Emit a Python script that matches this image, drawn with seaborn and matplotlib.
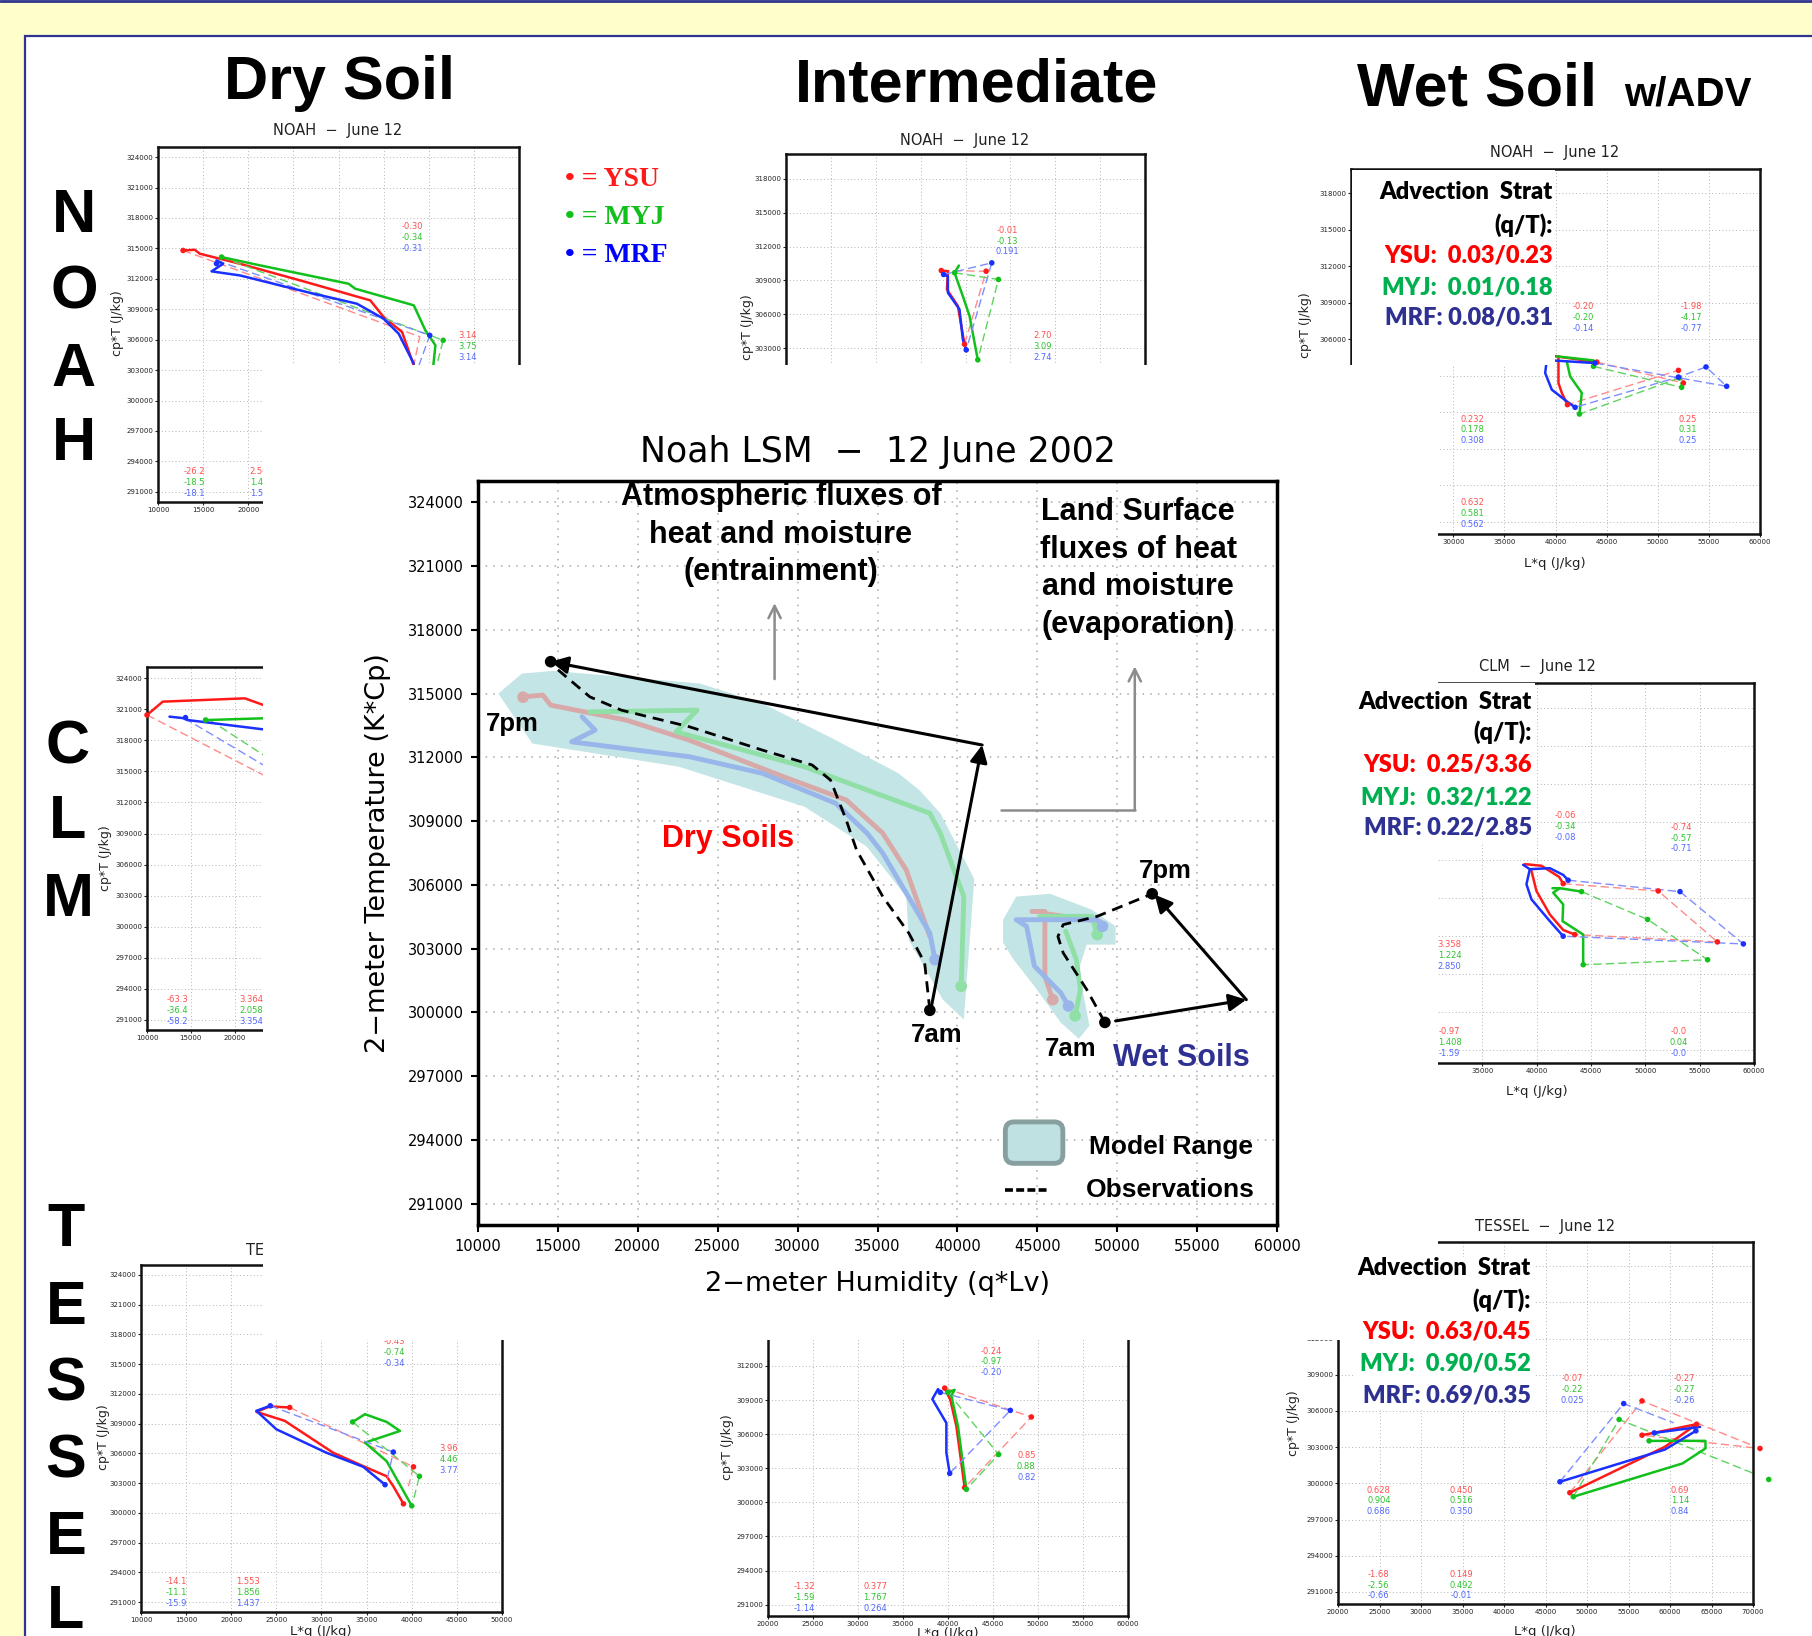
import numpy as np
import matplotlib
matplotlib.use('Agg')
import matplotlib.pyplot as plt
import seaborn as sns
from matplotlib.patches import Rectangle, FancyBboxPatch
from matplotlib.lines import Line2D
from matplotlib.ticker import FuncFormatter

#------------------------------------------------------------------------------
# DATA
#------------------------------------------------------------------------------

MODELS = ['YSU', 'MYJ', 'MRF']

# central panel: Noah LSM 12 June 2002
dry_range = [(11271, 315000), (12750, 315943), (14710, 316066), (23875, 315474), (27800, 314535),
             (32383, 312810), (36309, 311250), (37618, 310464), (38931, 309370), (41055, 306281),
             (40403, 299666), (39090, 300600), (36960, 303420), (36800, 305450), (34330, 307800),
             (31730, 309055), (30420, 309680), (26490, 310620), (22560, 311560), (16017, 312340),
             (13400, 312650)]
wet_range = [(42860, 304360), (43680, 305450), (45800, 305580), (48420, 304830), (49900, 304050),
             (49900, 303190), (48090, 303190), (47600, 302020), (48260, 299370), (47600, 298760),
             (46460, 299530), (44820, 301230), (43515, 302490), (42860, 303280)]

cen_dry = {
    'YSU': [[(12750, 314845), (14060, 314925), (14546, 314455), (19290, 313750), (23220, 312810),
             (29110, 311090), (33040, 309995), (35330, 308430), (36800, 306700), (38275, 303570)]],
    'MYJ': [[(17000, 314140), (23712, 314220), (22400, 313200), (30420, 311560), (38275, 309370),
             (38930, 308430), (40400, 305450), (40240, 301230)]],
    'MRF': [[(16510, 313910), (17330, 313280), (15860, 312730), (23220, 312030), (27800, 311250),
             (32380, 309840), (34350, 308430), (35330, 307490), (36800, 305610), (38275, 303730),
             (38600, 302480)]],
}
cen_wet = {
    'YSU': [[(45970, 300600), (45475, 301700), (45475, 304750), (44660, 304750)],
            [(45475, 304650), (48920, 304280)]],
    'MYJ': [[(45150, 304520), (48420, 304520), (48750, 303660)],
            [(46780, 303820), (47440, 302490), (47700, 301080), (47370, 299840)]],
    'MRF': [[(46950, 300300), (46460, 300930), (44820, 302180), (44330, 304050), (43680, 304360),
             (48750, 304360), (49080, 304050)]],
}
cen_dots = {
    'YSU': [(12820, 314830), (45970, 300600)],
    'MYJ': [(40240, 301230), (47370, 299840), (48750, 303660)],
    'MRF': [(38600, 302480), (46950, 300300), (49080, 304050)],
}
obs_dry = [(38275, 300100), (37950, 302330), (36960, 303730), (35330, 305450), (33690, 307640),
           (33040, 309055), (32060, 310930), (30910, 311640), (27800, 312340), (23220, 313440),
           (18970, 314220), (17000, 314845), (14546, 316410)]
obs_wet = [(49230, 299530), (48090, 301080), (46620, 302800), (46290, 303570), (46620, 304130),
           (48750, 304520), (52190, 305580)]
obs_pts = [(14546, 316500), (38275, 300100), (49230, 299530), (52190, 305580)]
flux_dry = [(38275, 299900), (41550, 312580), (14546, 316500)]
flux_wet = [(49900, 299600), (58080, 300600), (52350, 305540)]

# small panels: solid model paths, dashed closing paths, dots, printed numbers
noah_dry_solid = {
    'YSU': [[(12780, 314800), (14070, 314870), (14630, 314480), (19075, 313490), (25740, 311850),
             (33520, 309880), (35000, 308240), (37040, 306760), (38340, 303470), (38520, 302000)]],
    'MYJ': [[(17040, 314150), (21300, 313330), (31110, 311520), (31850, 311030), (38340, 309390),
             (39630, 306920), (40740, 305450), (40370, 302330)]],
    'MRF': [[(16480, 313820), (17220, 313490), (15930, 312740), (19075, 312340), (26480, 310700),
             (32040, 309550), (35000, 308070), (36670, 306590), (38340, 303640)]],
}
noah_dry_dash = {
    'YSU': [[(12780, 314800), (39000, 306300), (38340, 303470)]],
    'MYJ': [[(17040, 314150), (41600, 305940), (40740, 303000)]],
    'MRF': [[(16480, 313820), (40110, 306430), (38800, 303200)]],
}
noah_dry_dots = {'YSU': [(12780, 314800)], 'MYJ': [(17040, 314150), (41600, 305940)],
                 'MRF': [(16480, 313500), (40110, 306430)]}
noah_dry_nums = [(38150, 317170, ['-0.30', '-0.34', '-0.31']), (44260, 306430, ['3.14', '3.75', '3.14']),
                 (14000, 292970, ['-26.2', '-18.5', '-18.1']), (21200, 292970, ['2.56', '1.46', '1.56'])]

noah_int_solid = {
    'YSU': [[(37300, 309880), (38040, 309820), (37930, 308200), (39150, 306740), (39890, 303350)]],
    'MYJ': [[(39260, 310320), (38780, 309680), (39700, 307620), (40450, 305850), (41370, 301970)]],
    'MRF': [[(37560, 309530), (38040, 309380), (38040, 307910), (39330, 306440), (39700, 303790),
             (40080, 302850)]],
}
noah_int_dash = {
    'YSU': [[(37300, 309880), (42300, 309820), (39890, 303350)]],
    'MYJ': [[(38780, 309680), (43670, 309090), (41370, 301970)]],
    'MRF': [[(37560, 309530), (42930, 310560), (40080, 302850)]],
}
noah_int_dots = {'YSU': [(37300, 309880), (42300, 309820), (39890, 303350)],
                 'MYJ': [(38780, 309680), (43670, 309090), (41370, 301970)],
                 'MRF': [(37560, 309530), (42930, 310560), (40080, 302850)]}
noah_int_nums = [(44700, 313440, ['-0.01', '-0.13', '0.191']), (48600, 304090, ['2.70', '3.09', '2.74'])]

noah_wet_solid = {
    'YSU': [[(39640, 304650), (44040, 304130)],
            [(40290, 304600), (40290, 302410), (40620, 301590), (41170, 300630)]],
    'MYJ': [[(40130, 304600), (43710, 304270), (43710, 303780)],
            [(41100, 304190), (41430, 302960), (42570, 301590), (42340, 299860)]],
    'MRF': [[(38500, 304330), (43870, 304050)],
            [(39150, 304330), (38990, 303230), (39640, 301860), (41100, 300900), (41920, 300410)]],
}
noah_wet_dash = {
    'YSU': [[(44040, 304130), (52510, 302410), (52020, 303450), (41170, 300630)]],
    'MYJ': [[(43710, 303780), (52340, 302050), (52110, 302820), (42340, 299860)]],
    'MRF': [[(43870, 304050), (56740, 302140), (54720, 303730), (52020, 302900), (41920, 300410)]],
}
noah_wet_dots = {'YSU': [(44040, 304130), (52510, 302410), (52020, 303450), (41170, 300630)],
                 'MYJ': [(43710, 303780), (52340, 302050), (52110, 302820), (42340, 299860)],
                 'MRF': [(43870, 304050), (56740, 302140), (54720, 303730), (52020, 302900), (41920, 300410)]}
noah_wet_nums = [(42670, 308710, ['-0.20', '-0.20', '-0.14']), (53320, 308710, ['-1.98', '-4.17', '-0.77']),
                 (31890, 299450, ['0.232', '0.178', '0.308']), (52930, 299450, ['0.25', '0.31', '0.25']),
                 (31890, 292550, ['0.632', '0.581', '0.562'])]

clm_dry_solid = {
    'YSU': [[(10000, 320460), (11800, 321750), (21180, 322070), (23290, 321430), (27000, 320200)]],
    'MYJ': [[(16700, 319980), (17160, 319980), (23290, 320140), (27000, 320200)]],
    'MRF': [[(12570, 320300), (14290, 320140), (14400, 320360), (14560, 319980), (23290, 319070),
             (27000, 318600)]],
}
clm_dry_dash = {
    'YSU': [[(10000, 320460), (23290, 314660), (28000, 312600)]],
    'MYJ': [[(17160, 319980), (23290, 316600), (28000, 314500)]],
    'MRF': [[(14290, 320140), (23290, 315630), (28000, 313600)]],
}
clm_dry_dots = {'YSU': [(10000, 320460)], 'MYJ': [(16700, 319980)], 'MRF': [(14400, 320200)]}
clm_dry_nums = [(13520, 292930, ['-63.3', '-36.4', '-58.2']), (21950, 292930, ['3.364', '2.058', '3.354'])]

clm_wet_solid = {
    'YSU': [[(38910, 305700), (40440, 305570), (42070, 304690), (42440, 304160)],
            [(39520, 305170), (39980, 303580), (41210, 301730), (42440, 300500), (43510, 300140)]],
    'MYJ': [[(41450, 303800), (42130, 303800), (44130, 303530)],
            [(42130, 303800), (41520, 303450), (42440, 302520), (42380, 301200), (43820, 300400),
             (44280, 300140), (44280, 297760)]],
    'MRF': [[(38750, 305650), (39370, 305300), (39060, 304110), (39520, 302920), (41210, 301200),
             (42440, 300010)],
            [(39370, 305300), (41210, 305380), (42440, 304850), (42900, 304430)]],
}
clm_wet_dash = {
    'YSU': [[(42440, 304160), (51190, 303580), (56630, 299560), (43510, 300140)]],
    'MYJ': [[(44130, 303530), (50210, 301330), (55730, 298150), (44280, 297760)]],
    'MRF': [[(42900, 304430), (53190, 303530), (59020, 299400), (42440, 300010)]],
}
clm_wet_dots = {'YSU': [(42440, 304160), (51190, 303580), (56630, 299560), (43510, 300140)],
                'MYJ': [(44130, 303530), (50210, 301330), (55730, 298150), (44280, 297760)],
                'MRF': [(42900, 304430), (53190, 303530), (59020, 299400), (42440, 300010)]}
clm_wet_nums = [(42620, 309540, ['-0.06', '-0.34', '-0.08']), (53340, 308610, ['-0.74', '-0.57', '-0.71']),
                (32000, 299350, ['3.358', '1.224', '2.850']), (32000, 292460, ['-0.97', '1.408', '-1.59']),
                (53030, 292460, ['-0.0', '0.04', '-0.0'])]

tes_dry_solid = {
    'YSU': [[(26480, 310630), (24260, 310730), (22780, 310190), (25930, 309280), (31300, 306060),
             (34630, 304710), (37220, 303690), (37960, 302680), (39080, 300910)]],
    'MYJ': [[(33450, 309170), (34820, 309950), (37220, 309170), (38700, 308260), (34820, 307080),
             (37220, 305210), (40000, 300710)]],
    'MRF': [[(24330, 310800), (22780, 310290), (25000, 308430), (30560, 306060), (34630, 304640),
             (37040, 302840)]],
}
tes_dry_dash = {
    'YSU': [[(26480, 310630), (40190, 304640), (39630, 302680)]],
    'MYJ': [[(33450, 309170), (40850, 303690), (40190, 301320)]],
    'MRF': [[(24330, 310800), (37960, 306130), (37300, 303500)]],
}
tes_dry_dots = {'YSU': [(26480, 310630), (40190, 304640), (39080, 300910)],
                'MYJ': [(33450, 309170), (40850, 303690), (40000, 300710)],
                'MRF': [(24330, 310800), (37960, 306130), (37040, 302840)]}
tes_dry_nums = [(38040, 317300, ['-0.43', '-0.74', '-0.34']), (44080, 306470, ['3.96', '4.46', '3.77']),
                (13960, 293030, ['-14.1', '-11.1', '-15.9']), (21850, 293030, ['1.553', '1.856', '1.437'])]

tes_int_solid = {
    'YSU': [[(39630, 310050), (40260, 309020), (40930, 306690), (41850, 301300)]],
    'MYJ': [[(40000, 309670), (40740, 309900), (40370, 309380), (41110, 306690), (42040, 301150)]],
    'MRF': [[(39150, 309670), (38890, 309960), (38260, 309080), (39820, 306980), (39820, 304360),
             (40190, 302550)]],
}
tes_int_dash = {
    'YSU': [[(39630, 310050), (49260, 307510), (41850, 301300)]],
    'MYJ': [[(40000, 309670), (45630, 304210), (42040, 301150)]],
    'MRF': [[(39150, 309670), (46930, 308090), (40190, 302550)]],
}
tes_int_dots = {'YSU': [(39630, 310050), (49260, 307510), (41850, 301300)],
                'MYJ': [(40000, 309670), (45630, 304210), (42040, 301150)],
                'MRF': [(39150, 309670), (46930, 308090), (40190, 302550)]}
tes_int_nums = [(44820, 313310, ['-0.24', '-0.97', '-0.20']), (48700, 304120, ['0.85', '0.88', '0.82']),
                (24000, 292600, ['-1.32', '-1.59', '-1.14']), (31930, 292600, ['0.377', '1.767', '0.264'])]

tes_wet_solid = {
    'YSU': [[(47930, 299220), (59390, 303030), (63200, 304900)], [(56630, 303990), (63200, 304900)]],
    'MYJ': [[(48350, 298890), (61510, 301650), (64270, 302890), (64270, 303520), (57480, 303520)]],
    'MRF': [[(46740, 300130), (59390, 302800), (63120, 304350)], [(58110, 304180), (63630, 304680)]],
}
tes_wet_dash = {
    'YSU': [[(47930, 299220), (56630, 306830), (70840, 302890), (56630, 303990)]],
    'MYJ': [[(48350, 298890), (53870, 305290), (71900, 300320)]],
    'MRF': [[(46740, 300130), (54420, 306610), (60450, 305010)]],
}
tes_wet_dots = {'YSU': [(47930, 299220), (56630, 306830), (56630, 303990), (70840, 302890), (63200, 304900)],
                'MYJ': [(48350, 298890), (53870, 305290), (71900, 300320), (57480, 303520)],
                'MRF': [(46740, 300130), (54420, 306610), (58110, 304180), (63120, 304350)]}
tes_wet_nums = [(48270, 308680, ['-0.07', '-0.22', '0.025']), (61720, 308680, ['-0.27', '-0.27', '-0.26']),
                (24920, 299440, ['0.628', '0.904', '0.686']), (34900, 299440, ['0.450', '0.516', '0.350']),
                (61210, 299440, ['0.69', '1.14', '0.84']), (24920, 292460, ['-1.68', '-2.56', '-0.66']),
                (34900, 292460, ['0.149', '0.492', '-0.01'])]

adv_noah = ['0.03/0.23', '0.01/0.18', '0.08/0.31']
adv_clm = ['0.25/3.36', '0.32/1.22', '0.22/2.85']
adv_tessel = ['0.63/0.45', '0.90/0.52', '0.69/0.35']

#------------------------------------------------------------------------------
# STYLE
#------------------------------------------------------------------------------

SOLID_C = {'YSU': '#ff1a1a', 'MYJ': '#12c01c', 'MRF': '#1a30ff'}
DASH_C = {'YSU': '#ff8a8a', 'MYJ': '#5ed35e', 'MRF': '#7f8dff'}
NUM_C = {'YSU': '#ff5050', 'MYJ': '#2ec42e', 'MRF': '#5068ff'}
FADE_C = {'YSU': '#d7a9a9', 'MYJ': '#8fdfa6', 'MRF': '#98b6ea'}
ADV_C = {'YSU': '#ff0000', 'MYJ': '#00b050', 'MRF': '#2e3192'}
ADV_LAB = {'YSU': 'YSU:  ', 'MYJ': 'MYJ:  ', 'MRF': 'MRF: '}

W, H = 1812, 1636
sns.set_style('white')
plt.rcParams['font.family'] = ['DejaVu Sans']
for k in ['text.color', 'axes.labelcolor', 'xtick.color', 'ytick.color']:
    plt.rcParams[k] = 'black'
SANS = ['Liberation Sans', 'DejaVu Sans']
SERIF = ['Liberation Serif', 'DejaVu Serif']
CAL = ['Lato', 'DejaVu Sans']

fig = plt.figure(figsize=(W / 100, H / 100), dpi=100, facecolor='#ffffcc')


def add_box(x0, y0, x1, y1, **kw):
    return fig.add_axes([x0 / W, 1 - y1 / H, (x1 - x0) / W, (y1 - y0) / H], **kw)


def white_rect(x0, y0, x1, y1, z, **kw):
    fig.add_artist(Rectangle((x0 / W, 1 - y1 / H), (x1 - x0) / W, (y1 - y0) / H,
                             transform=fig.transFigure, facecolor='white',
                             edgecolor=kw.get('ec', 'none'), lw=kw.get('lw', 0), zorder=z))


def ftext(x, y, s, **kw):
    return fig.text(x / W, 1 - y / H, s, **kw)


def path_plot(ax, path, **kw):
    xs, ys = zip(*path)
    sns.lineplot(x=list(xs), y=list(ys), sort=False, estimator=None, ax=ax, **kw)


def small_panel(box, xlim, ylim, solid, dash, dots, nums):
    ax = add_box(*box, zorder=1)
    ax.set_facecolor('white')
    for m in MODELS:
        for p in dash.get(m, []):
            path_plot(ax, p, color=DASH_C[m], lw=1.0, linestyle=(0, (6, 3)))
        for p in solid.get(m, []):
            path_plot(ax, p, color=SOLID_C[m], lw=1.8)
        xs, ys = zip(*dots[m])
        sns.scatterplot(x=list(xs), y=list(ys), ax=ax, color=SOLID_C[m], s=16,
                        edgecolor='none', zorder=4, clip_on=False)
    for x, y, labs in nums:
        for i, (lab, m) in enumerate(zip(labs, MODELS)):
            ax.annotate(lab, (x, y), xytext=(0, -7.8 * i), textcoords='offset points',
                        ha='center', va='center', fontsize=6, color=NUM_C[m])
    ax.set_xlim(xlim)
    ax.set_ylim(ylim)
    ax.set_xticks(np.arange(xlim[0], xlim[1] + 1, 5000))
    ax.set_yticks(np.arange(291000, ylim[1], 3000))
    fmt = FuncFormatter(lambda v, p: f'{int(v)}')
    ax.xaxis.set_major_formatter(fmt)
    ax.yaxis.set_major_formatter(fmt)
    ax.tick_params(labelsize=5, length=2, width=0.8, pad=1.5, colors='#222', bottom=True, left=True)
    ax.grid(True, color='#b4b4b4', ls=(0, (1, 2.5)), lw=0.7)
    for sp in ax.spines.values():
        sp.set_linewidth(1.8)
        sp.set_color('#111')
    return ax


#------------------------------------------------------------------------------
# BACKGROUND FRAME
#------------------------------------------------------------------------------

fig.add_artist(Line2D([0, 1], [1 - 1 / H, 1 - 1 / H], transform=fig.transFigure,
                      color='#2f3490', lw=2, zorder=0))
white_rect(25, 36, W + 20, H + 20, 0, ec='#2f3490', lw=1.6)

#------------------------------------------------------------------------------
# SMALL PANELS
#------------------------------------------------------------------------------

small_panel((158, 147, 519, 502), (10000, 50000), (290000, 325000),
            noah_dry_solid, noah_dry_dash, noah_dry_dots, noah_dry_nums)
small_panel((786, 154, 1145, 495), (20000, 60000), (290000, 320200),
            noah_int_solid, noah_int_dash, noah_int_dots, noah_int_nums)
small_panel((1351, 169, 1760, 534), (20000, 60000), (290000, 320000),
            noah_wet_solid, noah_wet_dash, noah_wet_dots, noah_wet_nums)
small_panel((147, 667, 497, 1030), (10000, 50000), (290000, 325100),
            clm_dry_solid, clm_dry_dash, clm_dry_dots, clm_dry_nums)
small_panel((1428, 683, 1754, 1063), (30000, 60000), (290000, 320000),
            clm_wet_solid, clm_wet_dash, clm_wet_dots, clm_wet_nums)
small_panel((141, 1265, 502, 1612), (10000, 50000), (290000, 325000),
            tes_dry_solid, tes_dry_dash, tes_dry_dots, tes_dry_nums)
small_panel((768, 1275, 1128, 1616), (20000, 60000), (290000, 320000),
            tes_int_solid, tes_int_dash, tes_int_dots, tes_int_nums)
small_panel((1338, 1242, 1753, 1604), (20000, 70000), (290000, 320000),
            tes_wet_solid, tes_wet_dash, tes_wet_dots, tes_wet_nums)

small_kw = dict(ha='center', va='center', color='#222', zorder=1.5)
for x, y, s in [(338, 130, 'NOAH  \u2212  June 12'), (965, 141, 'NOAH  \u2212  June 12'),
                (1555, 153, 'NOAH  \u2212  June 12'), (1537, 667, 'CLM  \u2212  June 12'),
                (316, 1250, 'TESSEL  \u2212  June 12'), (1545, 1226, 'TESSEL  \u2212  June 12')]:
    ftext(x, y, s, fontsize=10.5, **small_kw)
for x, y in [(1555, 563), (1537, 1092), (1545, 1631), (321, 1631), (948, 1633)]:
    ftext(x, y, 'L*q (J/kg)', fontsize=9.5, **small_kw)
for x, y in [(118, 323), (747, 327), (1305, 325), (105, 858), (103, 1437), (728, 1447), (1293, 1423)]:
    ftext(x, y, 'cp*T (J/kg)', fontsize=9, rotation=90, **small_kw)

#------------------------------------------------------------------------------
# OVERLAYS + ADVECTION TEXT
#------------------------------------------------------------------------------

white_rect(263, 365, 1438, 1340, 3)
for (x0, y0, x1, y1) in [(1352, 170, 1555, 365), (1438, 683, 1535, 842), (1353, 1257, 1535, 1410)]:
    white_rect(x0, y0, x1, y1, 3.5)

for xr, ys, vals in [(1553, [192, 225, 256, 287, 318], adv_noah),
                     (1532, [702, 732, 765, 797, 828], adv_clm),
                     (1531, [1268, 1300, 1332, 1364, 1396], adv_tessel)]:
    ftext(xr, ys[0], 'Advection  Strat', ha='right', va='center', fontsize=17,
          weight='heavy', family=CAL, zorder=4)
    ftext(xr, ys[1], '(q/T):', ha='right', va='center', fontsize=17,
          weight='heavy', family=CAL, zorder=4)
    for y, m, v in zip(ys[2:], MODELS, vals):
        ftext(xr, y, ADV_LAB[m] + v, ha='right', va='center', fontsize=17,
              weight='heavy', family=CAL, color=ADV_C[m], zorder=4)

#------------------------------------------------------------------------------
# CENTRAL PANEL
#------------------------------------------------------------------------------

ax = add_box(478, 481, 1277, 1225, zorder=5)
ax.set_facecolor('white')
for poly in [dry_range, wet_range]:
    px, py = zip(*poly)
    ax.fill(px, py, color='#c4e5e5', lw=0, zorder=1)

for dset in [cen_dry, cen_wet]:
    for m in MODELS:
        for p in dset[m]:
            path_plot(ax, p, color=FADE_C[m], lw=3.5, zorder=2)
for m in MODELS:
    xs, ys = zip(*cen_dots[m])
    sns.scatterplot(x=list(xs), y=list(ys), ax=ax, color=FADE_C[m], s=70, edgecolor='none', zorder=2)

for obs in [obs_dry, obs_wet]:
    path_plot(ax, obs, color='black', lw=2.0, linestyle=(0, (4, 2.5)), zorder=3)
ox, oy = zip(*obs_pts)
sns.scatterplot(x=list(ox), y=list(oy), ax=ax, color='black', s=70, edgecolor='none', zorder=4)

for flux in [flux_dry, flux_wet]:
    for a, b in zip(flux[:-1], flux[1:]):
        ax.annotate('', xy=b, xytext=a, zorder=4,
                    arrowprops=dict(arrowstyle='-|>', color='black', lw=2.2,
                                    mutation_scale=26, shrinkA=0, shrinkB=0))

# grey pointer arrows
ax.annotate('', xy=(28560, 319385), xytext=(28560, 315550),
            arrowprops=dict(arrowstyle='->', color='#8c8c8c', lw=1.8, mutation_scale=22))
ax.plot([42700, 51100], [309525, 309525], color='#8c8c8c', lw=1.8)
ax.annotate('', xy=(51100, 316410), xytext=(51100, 309525),
            arrowprops=dict(arrowstyle='->', color='#8c8c8c', lw=1.8, mutation_scale=22, shrinkA=0))

bold = dict(weight='bold', family=SANS, ha='center', zorder=6)
ax.text(28960, 324950, 'Atmospheric fluxes of\nheat and moisture\n(entrainment)', va='top',
        fontsize=22, linespacing=1.33, **bold)
ax.text(51320, 324250, 'Land Surface\nfluxes of heat\nand moisture\n(evaporation)', va='top',
        fontsize=22, linespacing=1.33, **bold)
ax.text(12170, 313580, '7pm', va='center', fontsize=18.5, **bold)
ax.text(38730, 298920, '7am', va='center', fontsize=18.5, **bold)
ax.text(52980, 306630, '7pm', va='center', fontsize=18.5, **bold)
ax.text(47120, 298270, '7am', va='center', fontsize=18.5, **bold)
ax.text(25630, 308150, 'Dry Soils', va='center', fontsize=22, color='#ff0000', **bold)
ax.text(54000, 297840, 'Wet Soils', va='center', fontsize=22, color='#2e3192', **bold)
ax.text(53340, 293660, 'Model Range', va='center', fontsize=19, **bold)
ax.text(53340, 291650, 'Observations', va='center', fontsize=19, **bold)
ax.plot([43000, 45700], [291650, 291650], color='black', lw=2.6, linestyle=(0, (2.2, 0.9)))
ax.add_patch(FancyBboxPatch((43000, 292900), 3600, 1950, boxstyle='round,pad=0,rounding_size=550',
                            mutation_aspect=0.75, facecolor='#bfe1e1', edgecolor='#879f9f', lw=3.5))

ax.set_xlim(10000, 60000)
ax.set_ylim(290000, 325000)
ax.set_xticks(np.arange(10000, 60001, 5000))
ax.set_yticks(np.arange(291000, 324001, 3000))
ax.tick_params(labelsize=10.5, length=5, width=1.5, direction='out', pad=5,
               bottom=True, left=True)
ax.grid(True, color='#a8a8a8', ls=(0, (1, 4)), lw=1.1)
for sp in ax.spines.values():
    sp.set_linewidth(2.5)
    sp.set_color('black')
ax.set_title('Noah LSM  \u2212  12 June 2002', fontsize=25, pad=14)
ax.set_xlabel('2\u2212meter Humidity (q*Lv)', fontsize=19.5, labelpad=12)
ax.set_ylabel('2\u2212meter Temperature (K*Cp)', fontsize=19.5, labelpad=12)

#------------------------------------------------------------------------------
# HEADERS
#------------------------------------------------------------------------------

hdr = dict(weight='bold', family=SANS, zorder=6, va='baseline', color='black')
ftext(340, 99, 'Dry Soil', fontsize=44, ha='center', **hdr)
ftext(977, 102, 'Intermediate', fontsize=44, ha='center', **hdr)
ftext(1357, 106, 'Wet Soil', fontsize=44, ha='left', **hdr)
ftext(1624, 106, 'w/ADV', fontsize=29, ha='left', **hdr)

letters = [(74, 216, 'N'), (74, 293, 'O'), (74, 370, 'A'), (74, 445, 'H'),
           (68, 748, 'C'), (68, 823, 'L'), (68, 900, 'M'),
           (66, 1230, 'T'), (66, 1308, 'E'), (66, 1385, 'S'), (66, 1462, 'S'),
           (66, 1539, 'E'), (66, 1612, 'L')]
for x, y, s in letters:
    ftext(x, y, s, fontsize=44, ha='center', va='center', weight='bold', family=SANS,
          color='black', zorder=6)

for y, m in zip([179, 217, 255], MODELS):
    ftext(565, y, '\u2022 = ' + m, fontsize=20, weight='bold', family=SERIF,
          color=SOLID_C[m] if m != 'MRF' else '#0000ff', ha='left', va='center', zorder=6)

fig.savefig('out.png', dpi=100, facecolor=fig.get_facecolor())
